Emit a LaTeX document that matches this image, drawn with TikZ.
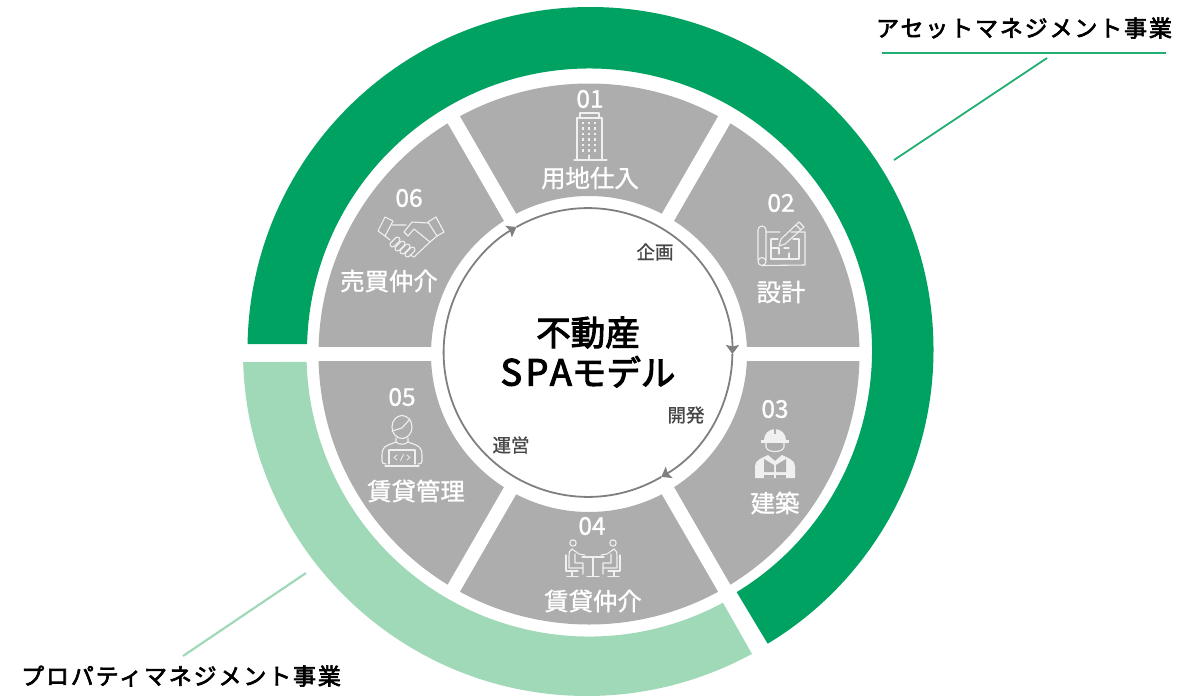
\documentclass[tikz,border=0pt]{standalone}
\usepackage{fontspec}
\setmainfont{Noto Sans CJK JP}
\usetikzlibrary{arrows.meta}
\definecolor{ringdark}{HTML}{00A261}
\definecolor{ringlight}{HTML}{9FD9B7}
\definecolor{leaddark}{HTML}{22AE73}
\definecolor{sector}{HTML}{ADADAD}
\definecolor{cycle}{HTML}{7F7F7F}
\definecolor{soft}{HTML}{F0F0F0}
\tikzset{
  num/.style={text=white, inner sep=0pt, font=\fontsize{24.5}{24}\addfontfeature{FakeBold=1.2}\selectfont},
  lab/.style={text=white, inner sep=0pt, font=\fontsize{24.4}{24}\addfontfeature{FakeBold=1.2}\selectfont},
  phase/.style={text=black!72, inner sep=0pt, font=\fontsize{18.5}{19}\addfontfeature{FakeBold=1}\selectfont},
  biz/.style={text=black, inner sep=0pt, font=\fontsize{23}{24}\addfontfeature{LetterSpace=8,FakeBold=2.8}\selectfont},
  icon/.style={draw=soft, line width=1.1pt, line join=round, line cap=round},
  spokeline/.style={draw=white, line width=14pt},
  cycarrow/.style={draw=cycle, line width=1.8pt, -{Stealth[length=9pt,width=13pt,inset=1.5pt]}},
  bldg/.pic={
    \draw[icon] (-13,24) -- (-13,-18) -- (12,-18) -- (12,24);
    \draw[icon] (-10,-18) -- (-10,-23) -- (9,-23) -- (9,-18);
    \draw[icon] (-16,24) -- (17,24);
    \draw[icon] (-1,24) -- (-1,19);
    \foreach \wx in {-7,-1,5} \foreach \wy in {-13,-7.5,...,15}
      \fill[soft] (\wx-1.2,\wy-1.2) rectangle (\wx+1.2,\wy+1.2);
  },
  plan/.pic={
    \draw[icon] (-23,16) -- (-23,-14) arc[start angle=180,end angle=360,radius=4] -- (-15,16);
    \draw[icon] (-19,17.5) circle[radius=4];
    \draw[icon] (-15,-12) -- (-1,-12) (10,-12) -- (24,-12) -- (24,21) -- (-19,21.5);
    \draw[icon] (-10,-5) -- (-10,15) -- (18,15) -- (18,-5) -- (12,-5);
    \draw[icon] (-10,-5) -- (-3,-5) (-10,4) -- (-2,4) -- (-2,10) (3,4) -- (8,4) (8,15) -- (8,9);
    \draw[icon] (18,-22) -- (23,-17) -- (4,0) -- (-2,2) -- (0,-5) -- cycle (15,-19) -- (20,-14);
  },
  shake/.pic={
    \draw[icon] (-26,-20) -- (-18,-16) -- (-26,-1) -- (-33,-6) -- cycle;
    \draw[icon] (25,-20) -- (33,-5) -- (26,-1) -- (17,-15) -- cycle;
    \draw[icon] (17,-14) -- (1,-15) -- (-7,-5) -- (-3,-1) -- (3,-8) -- (19,5) -- (26,-1);
    \draw[icon] (19,5) -- (3,20) -- (-1,18);
    \draw[icon] (-19,-12) -- (-5,-12) (-26,-1) -- (-21,3);
    \foreach \fx/\fy in {-16/5,-11/9,-6/12,-1/15}
      \draw[icon, rounded corners=2.5pt, shift={(\fx,\fy)}, rotate=45] (-6,-2.5) rectangle (6,2.5);
  },
  coder/.pic={
    \draw[icon] (0,-14) circle[x radius=10, y radius=11.5];
    \draw[icon] (-10,-10) -- (0,-13) -- (8,-22);
    \draw[icon] (-6,-3) -- (-6,1) -- (-14,4) .. controls (-19,6) and (-20,10) .. (-20,14) -- (-20,20) .. controls (-20,22) and (-19,23) .. (-16,23);
    \draw[icon] (6,-3) -- (6,1) -- (14,4) .. controls (19,6) and (20,10) .. (20,14) -- (20,20) .. controls (20,22) and (19,23) .. (16,23);
    \draw[icon] (-6,1) .. controls (-3,4) and (3,4) .. (6,1);
    \draw[icon] (-13,23) -- (-13,9) -- (13,9) -- (13,23);
    \draw[icon] (-17,25) -- (17,25);
    \draw[icon, line width=.8pt] (-5,14) -- (-8,16.5) -- (-5,19) (5,14) -- (8,16.5) -- (5,19) (1.5,13.5) -- (-1.5,19.5);
  },
  meet/.pic={
    \draw[icon] (-11,-1) -- (11,-1) (0,-1) -- (0,18) (-6,18.5) -- (6,18.5);
    \foreach \sd in {-1,1} {
      \begin{scope}[xscale=\sd]
        \draw[icon] (-20,-15) circle[radius=3.2];
        \draw[icon] (-21,-9) .. controls (-24,-8) and (-24,-5) .. (-24,-2) -- (-24,10) -- (-10,10) -- (-10,16);
        \draw[icon] (-21,-9) -- (-14,-4) -- (-8,-3) (-18,-4) -- (-18,5) -- (-10,5) -- (-10,10);
        \draw[icon] (-27,-3) -- (-27,13) -- (-15,13) (-21,13) -- (-21,18.5) (-26,18.5) -- (-15,18.5);
      \end{scope}
    }
  },
  worker/.pic={
    \fill[soft] (-11,-14) arc[start angle=180,end angle=360,radius=11] -- cycle;
    \fill[soft] (-14,-14) rectangle (14,-11.5);
    \fill[sector] (-1,-25) rectangle (1,-20);
    \draw[icon] (-9,-11) -- (-9,-7) .. controls (-8,-1) and (8,-1) .. (9,-7) -- (9,-11);
    \fill[soft] (-20,24) -- (-20,12) .. controls (-20,6) and (-13,4) .. (-7,1) -- (0,7) -- (7,1) .. controls (13,4) and (20,6) .. (20,12) -- (20,24) -- cycle;
    \foreach \sd in {-1,1} {
      \begin{scope}[xscale=\sd]
        \fill[sector] (-11,5) -- (-1,11) -- (-1,18) -- (-11,18) -- cycle;
        \fill[sector] (-11,20.5) -- (-1,20.5) -- (-1,24) -- (-11,24) -- cycle;
      \end{scope}
    }
  },
}
\begin{document}
\begin{tikzpicture}[x=1pt, y=-1pt]
  \useasboundingbox (0,0) rectangle (1199,696);
  \coordinate (hub) at (589,354);
  \coordinate (cdark) at (590.5,350);
  \coordinate (cdarkin) at (589.5,351);
  \coordinate (clight) at (587,352);
  \coordinate (ccycle) at (588,352.5);

  % business rings
  \fill[ringdark] ([shift={(-179:343)}]cdark) arc[start angle=-179,end angle=58.9,radius=343]
    -- ([shift={(58.6:282.5)}]cdarkin) arc[start angle=58.6,end angle=-178.6,radius=282.5] -- cycle;
  \fill[ringlight] ([shift={(178.33:344)}]clight) arc[start angle=178.33,end angle=61.35,radius=344]
    -- ([shift={(61.7:282.5)}]hub) arc[start angle=61.7,end angle=178.38,radius=282.5] -- cycle;

  % process sectors
  \fill[sector, even odd rule] (hub) circle[radius=270.5] (hub) circle[radius=158];
  \foreach \ang in {0,60,...,300}
    \draw[spokeline, shift={(hub)}] (\ang:150) -- (\ang:276);

  % cycle
  \draw[cycarrow] ([shift={(240.3:144.4)}]ccycle) arc[start angle=240.3,end angle=360.6,radius=144.4];
  \draw[cycarrow] ([shift={(0.6:144.4)}]ccycle) arc[start angle=0.6,end angle=59.5,radius=144.4];
  \draw[cycarrow] ([shift={(59.5:144.4)}]ccycle) arc[start angle=59.5,end angle=240.3,radius=144.4];

  \node[align=center, inner sep=0pt, font=\fontsize{34.5}{40}\addfontfeature{FakeBold=3}\selectfont] (model) at (588,352) {不動産\\{\fontsize{36}{40}\addfontfeature{LetterSpace=10}\selectfont SPA}モデル};
  \node[phase] (plan1) at (655,252) {企画};
  \node[phase] (dev1) at (686,415) {開発};
  \node[phase] (ops1) at (511,445) {運営};

  % sector labels
  \node[num] (n1) at (590,99) {01};
  \node[lab] (l1) at (590,178) {用地仕入};
  \node[num] (n2) at (781,203) {02};
  \node[lab] (l2) at (781,292) {設計};
  \node[num] (n3) at (775,409) {03};
  \node[lab] (l3) at (775,503) {建築};
  \node[num] (n4) at (592,526) {04};
  \node[lab] (l4) at (593,601) {賃貸仲介};
  \node[num] (n5) at (402,397) {05};
  \node[lab] (l5) at (416,491) {賃貸管理};
  \node[num] (n6) at (409,198) {06};
  \node[lab] (l6) at (389,281) {売買仲介};

  \pic at (590,136) {bldg};
  \pic at (781,244) {plan};
  \pic at (775,454) {worker};
  \pic at (593,558) {meet};
  \pic at (402,441) {coder};
  \pic at (411,237) {shake};

  % business labels
  \node[biz] (assetm) at (1024,28) {アセットマネジメント事業};
  \node[biz] (propm) at (181,676) {プロパティマネジメント事業};
  \coordinate (rulea) at (882,52.5);
  \coordinate (ruleb) at (1166,52.5);
  \coordinate (leada) at (894,160);
  \coordinate (leadb) at (1047,58);
  \coordinate (leadc) at (306,573);
  \coordinate (leadd) at (183,656);
  \draw[leaddark, line width=2pt] (rulea) -- (ruleb);
  \draw[leaddark, line width=1.8pt] (leada) -- (leadb);
  \draw[ringlight, line width=2.2pt] (leadc) -- (leadd);
\end{tikzpicture}
\end{document}
